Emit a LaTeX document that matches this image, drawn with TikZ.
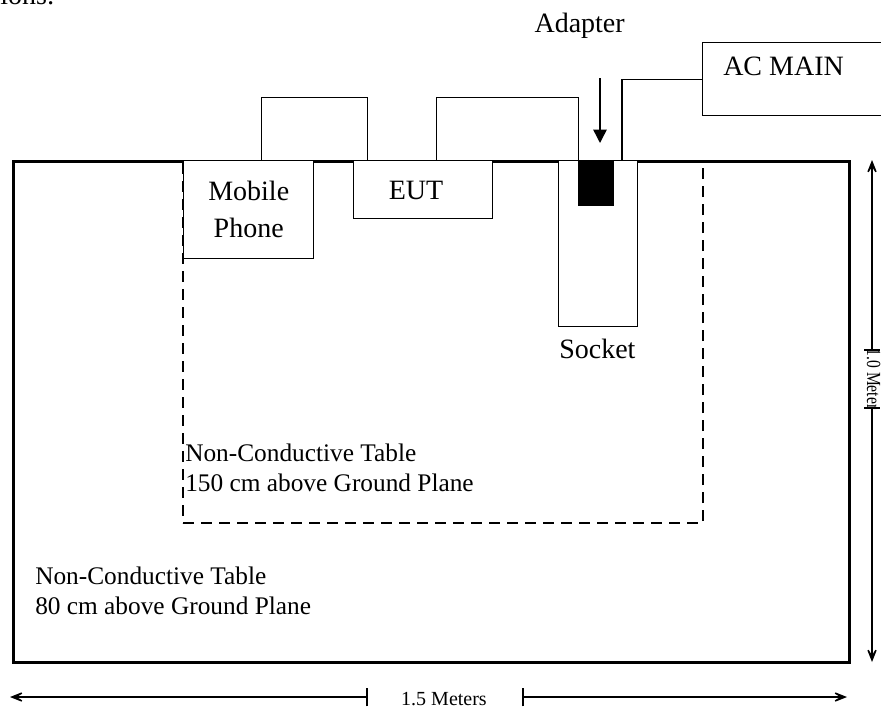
\documentclass[tikz,border=0pt]{standalone}
\usepackage{fontspec}
\setmainfont{Liberation Serif}
\usetikzlibrary{arrows.meta}

\tikzset{
  box/.style={draw, line width=1.1pt, fill=white, inner sep=0pt, anchor=north west},
  bigfont/.style={font=\fontsize{21}{27.75}\selectfont},
  tablelbl/.style={anchor=north west, align=left, inner sep=0pt, font=\fontsize{19}{22.5}\selectfont},
  dimline/.style={line width=1.1pt},
  dimtip/.style={dimline, -{Stealth[length=15pt,width=12pt,inset=10pt]}},
}

\begin{document}
\begin{tikzpicture}[x=0.75pt, y=-0.75pt]
\useasboundingbox (0,0) rectangle (881,711);
% cut off text above the figure
\node[bigfont, anchor=base east, inner sep=0pt] (cuttext) at (55,4) {tions:};
% tables
\node[draw, dashed, dash pattern=on 8pt off 5.5pt, line width=1.5pt, inner sep=0pt,
      minimum width=390pt, minimum height=271.5pt, anchor=north west] (table150) at (182,160) {};
\node[draw, line width=2.25pt, inner sep=0pt,
      minimum width=627pt, minimum height=375.75pt, anchor=north west] (table80) at (12,160) {};
\node[tablelbl] (lbl150) at (185,444) {Non-Conductive Table\\150 cm above Ground Plane};
\node[tablelbl] (lbl80) at (35,567) {Non-Conductive Table\\80 cm above Ground Plane};
% equipment
\node[box, minimum width=79.5pt, minimum height=47.25pt] (top1) at (261,97) {};
\node[box, minimum width=106.5pt, minimum height=47.25pt] (top2) at (436,97) {};
\node[box, bigfont, align=center, minimum width=97.5pt, minimum height=73.5pt] (phone) at (183,160) {Mobile\\Phone};
\node[box, minimum width=104.25pt, minimum height=43.5pt] (eut) at (353,160) {};
\node[bigfont, inner sep=0pt] (eutlbl) at (416,190) {EUT};
\node[box, minimum width=59.25pt, minimum height=124.5pt] (socket) at (558,160) {};
\node[box, fill=black, minimum width=26.25pt, minimum height=33.75pt] (adapter) at (578,160) {};
\node[box, minimum width=150pt, minimum height=54.75pt] (acmain) at (702,42) {};
\node[bigfont, anchor=base west, inner sep=0pt] (acmainlbl) at (723,75) {AC MAIN};
\node[bigfont, anchor=base west, inner sep=0pt] (socketlbl) at (559,358) {Socket};
\node[bigfont, anchor=base east, inner sep=0pt] (adapterlbl) at (625,32) {Adapter};
% adapter arrow and cable
\coordinate (adtop) at (600,78);
\coordinate (adtip) at (600,143);
\coordinate (plug) at (622,160);
\draw[line width=1.1pt, -{Triangle[length=10pt,width=10pt]}] (adtop) -- (adtip);
\draw[line width=1.1pt] (plug) |- (acmain.west);
% 1.0 Meter
\coordinate (vtop) at (872,160);
\coordinate (vtick1) at (872,350);
\coordinate (vtick2) at (872,408);
\coordinate (vbot) at (872,662);
\draw[dimtip] (vtick1) -- (vtop);
\draw[dimtip] (vtick2) -- (vbot);
\draw[dimline] ([xshift=-6pt]vtick1) -- ([xshift=6pt]vtick1);
\draw[dimline] ([xshift=-6pt]vtick2) -- ([xshift=6pt]vtick2);
\node[font=\fontsize{15}{18}\selectfont, rotate=-90, anchor=base, inner sep=0pt] (vlbl) at (867,379) {\scalebox{0.78}[1]{1.0 Meter}};
% 1.5 Meters
\coordinate (hleft) at (10,697);
\coordinate (htick1) at (367,697);
\coordinate (htick2) at (523,697);
\coordinate (hright) at (847,697);
\draw[dimtip] (htick1) -- (hleft);
\draw[dimtip] (htick2) -- (hright);
\draw[dimline] ([yshift=-7pt]htick1) -- ([yshift=7pt]htick1);
\draw[dimline] ([yshift=-7pt]htick2) -- ([yshift=7pt]htick2);
\node[font=\fontsize{15}{18}\selectfont, anchor=base, inner sep=0pt] (hlbl) at (444,705) {1.5 Meters};
\end{tikzpicture}
\end{document}
